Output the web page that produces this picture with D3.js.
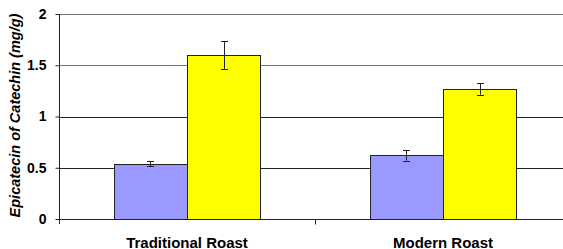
<!DOCTYPE html>
<html>
<head>
<meta charset="utf-8">
<script src="https://cdn.jsdelivr.net/npm/d3@7"></script>
<style>
  body { margin: 0; background: #fff; }
  svg { display: block; font-family: "Liberation Sans", Arial, sans-serif; }
</style>
</head>
<body>
<svg id="chart" width="563" height="249"></svg>
<script>
// DATA
const categories = ['Traditional Roast', 'Modern Roast'];
const seriesNames = ['a', 'b'];
const seriesA = [0.54, 0.62];
const seriesB = [1.60, 1.27];
const errorsA = [0.025, 0.05];
const errorsB = [0.135, 0.057];
const yTicks = [0, 0.5, 1, 1.5, 2];
const colors = ['#9999ff', '#ffff00'];

const svg = d3.select('#chart');
const margin = { top: 14, right: -8, bottom: 30, left: 59 };
const width = +svg.attr('width') - margin.left - margin.right;
const height = +svg.attr('height') - margin.top - margin.bottom;

const g = svg.append('g')
    .attr('transform', 'translate(' + margin.left + ',' + margin.top + ')');

// SCALES
const x = d3.scaleBand().domain(categories).range([0, width]);
const x1 = d3.scaleBand().domain(seriesNames).range([0, x.bandwidth()]).paddingOuter(0.745).paddingInner(0);
const y = d3.scaleLinear().domain([0, 2]).range([height, 0]);

// GRID
g.append('g')
    .selectAll('line')
    .data(yTicks.filter(d => d > 0))
    .join('line')
    .attr('x1', 0)
    .attr('x2', width)
    .attr('y1', d => Math.round(y(d)) + 0.5)
    .attr('y2', d => Math.round(y(d)) + 0.5)
    .attr('stroke', d => d >= 1.5 ? '#777' : '#222');

// BARS
const rows = categories.map((c, i) => [
    { cat: c, s: 'a', v: seriesA[i], e: errorsA[i] },
    { cat: c, s: 'b', v: seriesB[i], e: errorsB[i] }
]).flat();

g.append('g')
    .selectAll('rect')
    .data(rows)
    .join('rect')
    .attr('x', d => Math.round(x(d.cat) + x1(d.s)) + 0.5)
    .attr('y', d => Math.round(y(d.v)) + 0.5)
    .attr('width', Math.round(x1.bandwidth()))
    .attr('height', d => Math.round(y(0)) - Math.round(y(d.v)))
    .attr('fill', d => colors[seriesNames.indexOf(d.s)])
    .attr('stroke', '#222')
    .attr('stroke-width', 1);

// ERROR BARS
const err = g.append('g').attr('stroke', '#222').attr('stroke-width', 1);
rows.forEach(d => {
    const cx = Math.round(x(d.cat) + x1(d.s) + x1.bandwidth() / 2) + 0.5;
    const top = y(d.v + d.e), bot = y(d.v - d.e);
    err.append('line').attr('x1', cx).attr('x2', cx).attr('y1', top).attr('y2', bot);
    err.append('line').attr('x1', cx - 3.5).attr('x2', cx + 3.5).attr('y1', Math.round(top) + 0.5).attr('y2', Math.round(top) + 0.5);
    err.append('line').attr('x1', cx - 3.5).attr('x2', cx + 3.5).attr('y1', Math.round(bot) + 0.5).attr('y2', Math.round(bot) + 0.5);
});

// AXES
const yAxis = g.append('g')
    .attr('transform', 'translate(0.5,0)')
    .call(d3.axisLeft(y).tickValues(yTicks).tickSize(4).tickPadding(9).tickFormat(d3.format('')));
yAxis.selectAll('line, path').attr('stroke', '#222');
yAxis.select('.domain').attr('d', 'M0,0V' + (height + 5));
yAxis.selectAll('text')
    .attr('font-size', 14)
    .attr('font-weight', 'bold')
    .attr('fill', '#000');

const xAxis = g.append('g')
    .attr('transform', `translate(0, ${Math.round(height) + 0.5})`);
xAxis.append('line').attr('x1', 0).attr('x2', width).attr('stroke', '#222');
xAxis.selectAll('.tick')
    .data(categories.slice(1))
    .join('line')
    .attr('x1', d => Math.round(x(d)) + 0.5)
    .attr('x2', d => Math.round(x(d)) + 0.5)
    .attr('y1', 0)
    .attr('y2', 5)
    .attr('stroke', '#222');
xAxis.selectAll('text')
    .data(categories)
    .join('text')
    .attr('x', d => x(d) + x.bandwidth() / 2)
    .attr('y', 28)
    .attr('text-anchor', 'middle')
    .attr('font-size', 15)
    .attr('font-weight', 'bold')
    .text(d => d);

// Y TITLE
svg.append('text')
    .attr('transform', 'translate(19.5,' + 115.5 + ') rotate(-90)')
    .attr('text-anchor', 'middle')
    .attr('font-size', 14.5)
    .attr('font-weight', 'bold')
    .attr('font-style', 'italic')
    .text('Epicatecin of Catechin (mg/g)');
</script>
</body>
</html>
